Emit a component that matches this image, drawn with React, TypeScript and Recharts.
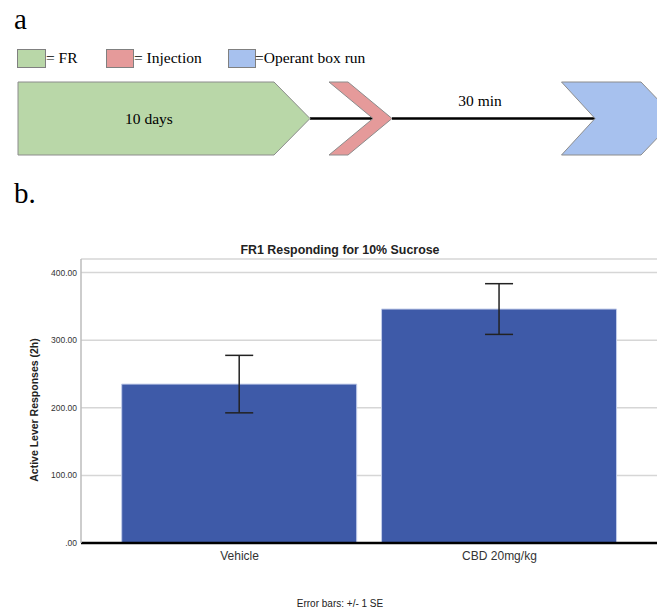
import React from "react";
import {
  BarChart,
  Bar,
  XAxis,
  YAxis,
  CartesianGrid,
  ErrorBar,
} from "recharts";

const groups = ["Vehicle", "CBD 20mg/kg"];
const means = [235, 346];
const errors = [42.5, 37.5];
const yTicks = [0, 100, 200, 300, 400];

const data = groups.map((name, i) => ({ name, mean: means[i], se: errors[i] }));

const sans = "'Liberation Sans', Arial, sans-serif";
const serif = "'Liberation Serif', 'Times New Roman', serif";

function fmtTick(v: number) {
  return v === 0 ? ".00" : v.toFixed(2);
}

function Timeline() {
  const mid = 118.5;
  return (
    <svg width={657} height={230} style={{ position: "absolute", left: 0, top: 0 }}>
      <text x={14} y={29} fontFamily={serif} fontSize={29} fill="#000">a</text>

      <rect x={17.5} y={49.5} width={28} height={18} fill="#b9d7a8" stroke="#808080" />
      <text x={46} y={63} fontFamily={serif} fontSize={15.5}>= FR</text>
      <rect x={106.5} y={49.5} width={27} height={18} fill="#e59a9a" stroke="#808080" />
      <text x={134} y={63} fontFamily={serif} fontSize={15.5}>= Injection</text>
      <rect x={228.5} y={49.5} width={27} height={18} fill="#a7c1ee" stroke="#808080" />
      <text x={255} y={63} fontFamily={serif} fontSize={15.5}>=Operant box run</text>

      <line x1={310} y1={mid} x2={373} y2={mid} stroke="#000" strokeWidth={2.5} />
      <line x1={392} y1={mid} x2={595} y2={mid} stroke="#000" strokeWidth={2.5} />

      <polygon
        points={`18,82 274,82 310,${mid} 274,155 18,155`}
        fill="#b9d7a8"
        stroke="#8c8c8c"
      />
      <polygon
        points={`329,82 348,82 392,${mid} 348,155 329,155 373,${mid}`}
        fill="#e59a9a"
        stroke="#8c8c8c"
      />
      <polygon
        points={`561.5,82 641,82 676,${mid} 641,155 561.5,155 595,${mid}`}
        fill="#a7c1ee"
        stroke="#8c8c8c"
      />

      <text x={149} y={124} textAnchor="middle" fontFamily={serif} fontSize={15.5}>10 days</text>
      <text x={480} y={106} textAnchor="middle" fontFamily={serif} fontSize={15.5}>30 min</text>

      <text x={14} y={203} fontFamily={serif} fontSize={29}>b.</text>
    </svg>
  );
}

export default function App() {
  return (
    <div
      style={{
        position: "absolute",
        left: 0,
        top: 0,
        width: 657,
        height: 608,
        background: "#fff",
        overflow: "hidden",
      }}
    >
      <Timeline />

      <div style={{ position: "absolute", left: 0, top: 230 }}>
        <BarChart
          width={657}
          height={378}
          data={data}
          margin={{ top: 29, right: 0, bottom: 35, left: 0 }}
        >
          <CartesianGrid vertical={false} stroke="#d6d6d6" strokeWidth={1.5} />
          <XAxis
            dataKey="name"
            padding={{ left: 28.7, right: 27.6 }}
            axisLine={{ stroke: "#000", strokeWidth: 2.5 }}
            tickLine={false}
            tickSize={0}
            tickMargin={8}
            height={30}
            tick={{ fontSize: 12, fill: "#333", fontFamily: sans }}
          />
          <YAxis
            domain={[0, 420]}
            ticks={yTicks}
            width={81}
            tickFormatter={fmtTick}
            axisLine={{ stroke: "#bdbdbd", strokeWidth: 1.5 }}
            tickLine={false}
            tickSize={0}
            tickMargin={4}
            tick={{ fontSize: 8.5, fill: "#333", fontFamily: sans }}
          />
          <Bar
            dataKey="mean"
            fill="#3e5aa8"
            stroke="#c3cdea"
            strokeWidth={1}
            barSize={235}
            isAnimationActive={false}
          >
            <ErrorBar dataKey="se" width={14} stroke="#222" strokeWidth={1.5} />
          </Bar>
        </BarChart>
      </div>

      <svg width={657} height={608} style={{ position: "absolute", left: 0, top: 0, pointerEvents: "none" }}>
        <text x={340} y={254} textAnchor="middle" fontFamily={sans} fontWeight="bold" fontSize={12.4} fill="#222">
          FR1 Responding for 10% Sucrose
        </text>
        <text
          x={38}
          y={410}
          textAnchor="middle"
          fontFamily={sans}
          fontWeight="bold"
          fontSize={10.5}
          fill="#222"
          transform="rotate(-90 38 410)"
        >
          Active Lever Responses (2h)
        </text>
        <text x={340} y={607} textAnchor="middle" fontFamily={sans} fontSize={10} fill="#222">
          Error bars: +/- 1 SE
        </text>
      </svg>
    </div>
  );
}
